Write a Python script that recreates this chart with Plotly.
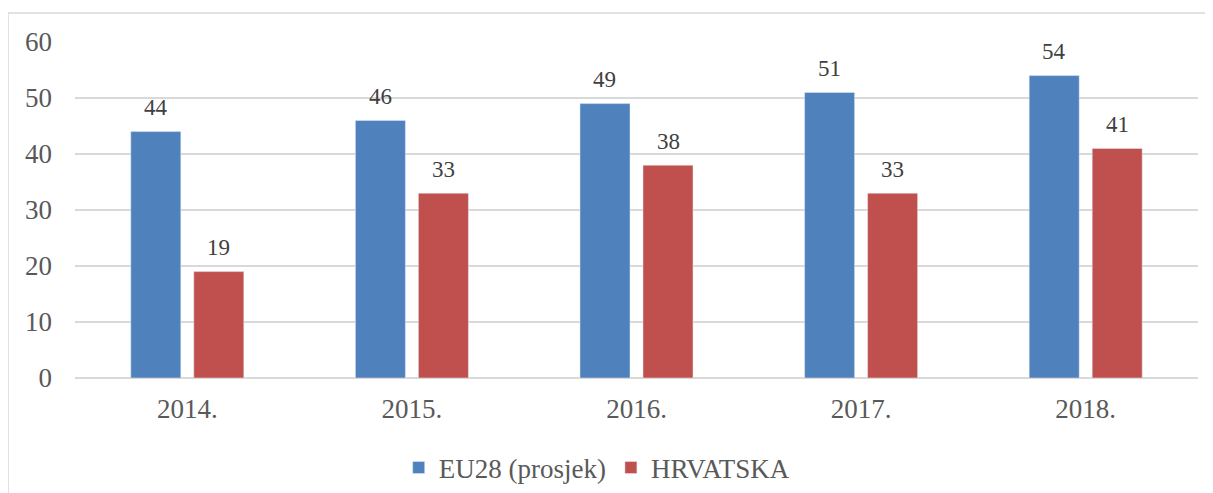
import plotly.graph_objects as go

years = ["2014.", "2015.", "2016.", "2017.", "2018."]
eu28 = [44, 46, 49, 51, 54]
hrvatska = [19, 33, 38, 33, 41]

font_fam = "Liberation Serif, Times New Roman, serif"

# page body has an 8px margin, so the figure is 8px smaller than the window
W, H = 1205, 485
ml, mr, mt, mb = 67, 15, 34, 115
bargap, bargroupgap = 0.439, 0.206

# horizontal offset of each bar from its category centre, in px
cat_w = (W - ml - mr) / len(years)
slot = cat_w * (1 - bargap) / 2
offset = slot / 2

fig = go.Figure()
fig.add_trace(go.Bar(x=years, y=eu28, name="EU28 (prosjek)", marker_color="#4F81BD"))
fig.add_trace(go.Bar(x=years, y=hrvatska, name="HRVATSKA", marker_color="#C0504D"))

# value labels; "2014." looks numeric, so place them by category index
annotations = []
for vals, shift in [(eu28, -offset), (hrvatska, offset)]:
    for i, v in enumerate(vals):
        annotations.append(dict(x=i, y=v, text=str(v), showarrow=False,
                                xshift=shift, yshift=24, yanchor="middle",
                                font=dict(size=23, color="#404040", family=font_fam)))

plot_w = W - ml - mr
plot_h = H - mt - mb

fig.update_layout(
    width=W, height=H,
    margin=dict(l=ml, r=mr, t=mt, b=mb, autoexpand=False),
    paper_bgcolor="white", plot_bgcolor="white",
    font=dict(family=font_fam, size=27, color="#595959"),
    barmode="group", bargap=bargap, bargroupgap=bargroupgap,
    showlegend=True,
    legend=dict(orientation="h", x=0.465, xanchor="center", y=-90 / plot_h, yanchor="middle",
                font=dict(size=27, color="#595959"), itemwidth=30),
    xaxis=dict(type="category", range=[-0.5, len(years) - 0.5], showgrid=False,
               showline=False, ticks="", ticklabelstandoff=12),
    yaxis=dict(range=[0, 60], dtick=10, showgrid=True, gridcolor="#D9D9D9", gridwidth=1.5,
               zeroline=True, zerolinecolor="#D9D9D9", zerolinewidth=1.5,
               ticks="", ticklabelstandoff=22),
    annotations=annotations,
    shapes=[dict(type="rect", xref="paper", yref="paper",
                 x0=-ml / plot_w, x1=1.05,
                 y0=-0.4, y1=(H - mb - 5) / plot_h,
                 line=dict(color="#D9D9D9", width=1.5), fillcolor="rgba(0,0,0,0)",
                 layer="below")],
)

fig.write_html("out.html")
